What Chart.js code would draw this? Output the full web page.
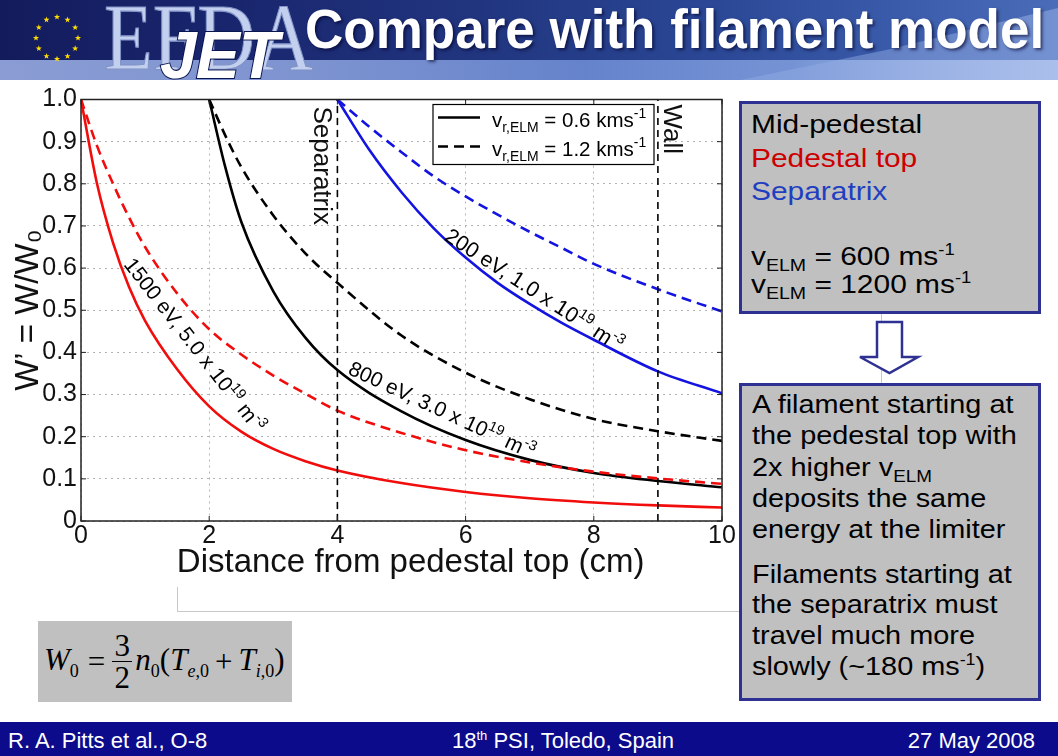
<!DOCTYPE html>
<html>
<head>
<meta charset="utf-8">
<script src="https://cdn.jsdelivr.net/npm/chart.js@4.4.1/dist/chart.umd.min.js"></script>
<style>
  html, body { margin:0; padding:0; background:#fff; }
  #slide { position:relative; width:1058px; height:756px; overflow:hidden; background:#fff;
           font-family:"Liberation Sans", Arial, Helvetica, sans-serif; }
  .abs { position:absolute; white-space:nowrap; }
  .box { position:absolute; background:#c0c0c0; border:3px solid #2e3192; box-sizing:border-box; }
  .l1 { position:absolute; left:751px; font-size:26px; line-height:26px; white-space:nowrap; color:#000; transform:scaleX(1.15); transform-origin:0 0; }
  .l2 { position:absolute; left:752px; font-size:26px; line-height:26px; white-space:nowrap; color:#000; transform:scaleX(1.11); transform-origin:0 0; }
  .sb { font-size:17px; line-height:0; vertical-align:-6px; }
  .sp { font-size:16px; line-height:0; vertical-align:10px; }
  .ft { position:absolute; top:730px; font-size:22px; line-height:22px; color:#fff; white-space:nowrap; }
  .fm { font-family:"Liberation Serif","Times New Roman",serif; }
</style>
</head>
<body>
<div id="slide">
  <!-- header -->
  <div class="abs" style="left:0;top:0;width:1058px;height:80px;background:linear-gradient(90deg,#131b5c 0%,#19266e 22%,#21357f 45%,#2b4896 68%,#3d5fae 88%,#4b6cb7 100%);"></div>
  <div class="abs" style="left:0;top:60px;width:1058px;height:20px;background:linear-gradient(90deg,#8a9cd3 0%,#7d93d0 30%,#6583cb 55%,#7593d4 75%,#c3d2f0 100%);"></div>
  <div class="abs" style="left:0;top:0;width:1058px;height:80px;background:linear-gradient(90deg,rgba(150,175,230,0) 0%,rgba(150,175,230,0.55) 100%);clip-path:polygon(70% 100%, 84% 62%, 100% 10%, 100% 100%);"></div>
  <svg class="abs" id="stars" style="left:27px;top:8px;" width="60" height="60"></svg>
  <div class="abs fm" style="left:104px;top:3px;font-size:80px;line-height:80px;color:#c3cfee;-webkit-text-stroke:1px #8193c6;transform:scaleY(1.2);transform-origin:0 67px;">EFDA</div>
  <div class="abs" style="left:160px;top:22px;font-size:66px;line-height:66px;font-weight:bold;font-style:italic;color:#fff;-webkit-text-stroke:2px #0a1650;paint-order:stroke fill;letter-spacing:-1px;">JET</div>
  <div class="abs" style="left:305px;top:3px;font-size:53px;line-height:53px;font-weight:bold;color:#fff;text-shadow:2px 2px 3px rgba(0,0,40,0.6);transform:scaleY(1.06);transform-origin:0 45px;">Compare with filament model</div>

  <!-- chart -->
  <canvas id="c" width="740" height="500" style="position:absolute;left:0;top:88px;"></canvas>

  <!-- leftover image border lines -->
  <div class="abs" style="left:177px;top:587px;width:1px;height:24px;background:#c8c8c8;"></div>
  <div class="abs" style="left:177px;top:611px;width:563px;height:1px;background:#c8c8c8;"></div>

  <!-- formula -->
  <div class="abs" style="left:38px;top:621px;width:254px;height:81px;background:#c0c0c0;"></div>
  <div class="abs fm" style="left:44px;top:621px;height:81px;display:flex;align-items:center;font-size:31px;color:#000;">
    <span><i>W</i><span style="font-size:18px;vertical-align:-7px;">0</span></span>
    <span style="margin:0 4px 0 9px;">=</span>
    <span style="display:inline-flex;flex-direction:column;align-items:center;margin:0 3px;">
      <span style="line-height:31px;">3</span>
      <span style="border-top:1.5px solid #000;width:20px;"></span>
      <span style="line-height:31px;">2</span>
    </span>
    <span><i>n</i><span style="font-size:18px;vertical-align:-7px;">0</span></span>
    <span>(<i>T</i><span style="font-size:18px;vertical-align:-7px;"><i>e</i>,0</span></span>
    <span style="margin:0 6px;">+</span>
    <span><i>T</i><span style="font-size:18px;vertical-align:-7px;"><i>i</i>,0</span>)</span>
  </div>

  <!-- right boxes -->
  <div class="abs" style="left:881px;top:313px;width:1px;height:72px;background:#c8c8c8;"></div>
  <div class="box" style="left:739px;top:101px;width:302px;height:213px;"></div>
  <div class="l1" style="top:111px;color:#000;">Mid-pedestal</div>
  <div class="l1" style="top:145px;color:#cc0000;">Pedestal top</div>
  <div class="l1" style="top:178px;color:#1f3fc0;">Separatrix</div>
  <div class="l1" style="top:243px;">v<span class="sb">ELM</span> = 600 ms<span class="sp">-1</span></div>
  <div class="l1" style="top:271px;">v<span class="sb">ELM</span> = 1200 ms<span class="sp">-1</span></div>

  <svg class="abs" style="left:850px;top:314px;" width="80" height="66">
    <polygon points="27,8 52,8 52,43 68,43 39.5,59 10,43 27,43" fill="#ffffff" stroke="#2e3192" stroke-width="2.5" stroke-linejoin="miter"/>
  </svg>

  <div class="box" style="left:739px;top:383px;width:302px;height:318px;"></div>
  <div class="l2" style="top:391px;">A filament starting at</div>
  <div class="l2" style="top:422px;">the pedestal top with</div>
  <div class="l2" style="top:454px;">2x higher v<span class="sb">ELM</span></div>
  <div class="l2" style="top:485px;">deposits the same</div>
  <div class="l2" style="top:516px;">energy at the limiter</div>
  <div class="l2" style="top:561px;">Filaments starting at</div>
  <div class="l2" style="top:591px;">the separatrix must</div>
  <div class="l2" style="top:622px;">travel much more</div>
  <div class="l2" style="top:653px;">slowly (~180 ms<span class="sp">-1</span>)</div>

  <!-- footer -->
  <div class="abs" style="left:0;top:722px;width:1058px;height:34px;background:#0b0b8c;"></div>
  <div class="ft" style="left:8px;">R. A. Pitts et al., O-8</div>
  <div class="ft" style="left:452px;">18<span style="font-size:13px;vertical-align:8px;line-height:0;">th</span> PSI, Toledo, Spain</div>
  <div class="ft" style="right:23px;">27 May 2008</div>
</div>

<script>
// ---------------- data ----------------
const xTicks = [0, 2, 4, 6, 8, 10];
const yTicks = [0, 0.1, 0.2, 0.3, 0.4, 0.5, 0.6, 0.7, 0.8, 0.9, 1.0];

// Pedestal top (red), 1500 eV, 5.0e19 m^-3
const redX      = [0, 0.25, 0.5, 0.75, 1, 1.5, 2, 2.5, 3, 3.5, 4, 5, 6, 7, 8, 9, 10];
const redSolid  = [1.0, 0.80, 0.66, 0.555, 0.475, 0.36, 0.272, 0.212, 0.171, 0.142, 0.12, 0.09, 0.069, 0.054, 0.044, 0.037, 0.032];
const redDashed = [1.0, 0.89, 0.80, 0.72, 0.65, 0.54, 0.455, 0.395, 0.345, 0.302, 0.262, 0.209, 0.168, 0.139, 0.117, 0.101, 0.088];

// Mid-pedestal (black), 800 eV, 3.0e19 m^-3
const blackX      = [2, 2.25, 2.5, 3, 3.5, 4, 5, 6, 7, 8, 9, 10];
const blackSolid  = [1.0, 0.84, 0.71, 0.545, 0.435, 0.358, 0.26, 0.192, 0.145, 0.114, 0.095, 0.08];
const blackDashed = [1.0, 0.915, 0.84, 0.725, 0.635, 0.565, 0.44, 0.352, 0.289, 0.242, 0.213, 0.19];

// Separatrix (blue), 200 eV, 1.0e19 m^-3
const blueX      = [4, 4.5, 5, 5.5, 6, 6.5, 7, 7.5, 8, 9, 10];
const blueSolid  = [1.0, 0.88, 0.78, 0.695, 0.625, 0.565, 0.515, 0.47, 0.43, 0.355, 0.303];
const blueDashed = [1.0, 0.935, 0.875, 0.818, 0.77, 0.727, 0.686, 0.648, 0.61, 0.55, 0.497];

// vertical reference lines
const markerX = [4, 9];
const markerNames = ['Separatrix', 'Wall'];

// legend speeds (kms^-1) and curve annotations
const legendSpeeds = ['0.6', '1.2'];
const curveTexts = ['1500 eV, 5.0 x 10', '800 eV, 3.0 x 10', '200 eV, 1.0 x 10'];

// ---------------- styling / placement ----------------
const RED = '#f20d0d', BLACK = '#000000', BLUE = '#1414e0';
const DASH = [10, 6];
const FONT = '"Liberation Sans", Arial, Helvetica, sans-serif';
const labelPlacement = [
  { x: 0.655, y: 0.608, angle: 52, size: 21 },
  { x: 4.15,  y: 0.35,  angle: 25, size: 21 },
  { x: 5.65,  y: 0.668, angle: 33, size: 21.5 }
];

// stars of the EU flag (decoration)
(function () {
  const svg = document.getElementById('stars');
  let s = '';
  for (let k = 0; k < 12; k++) {
    const a = k * Math.PI / 6;
    const cx = 30 + 21 * Math.cos(a), cy = 30 + 21 * Math.sin(a);
    let p = [];
    for (let j = 0; j < 10; j++) {
      const r = j % 2 ? 1.3 : 3.2;
      const b = -Math.PI / 2 + j * Math.PI / 5;
      p.push((cx + r * Math.cos(b)).toFixed(2) + ',' + (cy + r * Math.sin(b)).toFixed(2));
    }
    s += '<polygon points="' + p.join(' ') + '" fill="#ffdd00"/>';
  }
  svg.innerHTML = s;
})();

function pts(xs, ys) { return xs.map((x, i) => ({ x: x, y: ys[i] })); }

function curve(xs, ys, color, dashed) {
  return {
    data: pts(xs, ys), borderColor: color, backgroundColor: color,
    borderWidth: 2.6, borderDash: dashed ? DASH : [], pointRadius: 0,
    cubicInterpolationMode: 'monotone', fill: false
  };
}

const datasets = [
  ...markerX.map(v => ({
    data: [{ x: v, y: yTicks[0] }, { x: v, y: yTicks[yTicks.length - 1] }],
    borderColor: '#000', borderWidth: 1.6, borderDash: [7, 5], pointRadius: 0, tension: 0, fill: false
  })),
  curve(redX, redSolid, RED, false),
  curve(redX, redDashed, RED, true),
  curve(blackX, blackSolid, BLACK, false),
  curve(blackX, blackDashed, BLACK, true),
  curve(blueX, blueSolid, BLUE, false),
  curve(blueX, blueDashed, BLUE, true)
];

function drawParts(ctx, parts, size) {
  let xo = 0;
  parts.forEach(p => {
    const fs = (p.sup || p.sub) ? size * 0.68 : size;
    ctx.font = fs + 'px ' + FONT;
    const dy = p.sup ? -size * 0.42 : (p.sub ? size * 0.26 : 0);
    ctx.fillText(p.t, xo, dy);
    xo += ctx.measureText(p.t).width;
  });
}

const decor = {
  id: 'decor',
  afterDatasetsDraw(chart) {
    const { ctx, chartArea: a, scales: { x, y } } = chart;
    ctx.save();
    // frame
    ctx.strokeStyle = '#222'; ctx.lineWidth = 1.5; ctx.setLineDash([]);
    ctx.strokeRect(a.left, a.top, a.right - a.left, a.bottom - a.top);
    // inward tick marks
    ctx.lineWidth = 1;
    ctx.beginPath();
    xTicks.forEach(v => {
      const px = x.getPixelForValue(v);
      ctx.moveTo(px, a.bottom); ctx.lineTo(px, a.bottom - 5);
      ctx.moveTo(px, a.top); ctx.lineTo(px, a.top + 5);
    });
    yTicks.forEach(v => {
      const py = y.getPixelForValue(v);
      ctx.moveTo(a.left, py); ctx.lineTo(a.left + 5, py);
      ctx.moveTo(a.right, py); ctx.lineTo(a.right - 5, py);
    });
    ctx.stroke();

    // marker labels (rotated, reading downward)
    ctx.fillStyle = '#111';
    ctx.font = '26px ' + FONT;
    ctx.textBaseline = 'alphabetic';
    markerX.forEach((v, i) => {
      const px = x.getPixelForValue(v);
      const bx = i === 0 ? px - 23 : px + 6;
      ctx.save();
      ctx.translate(bx, a.top + (i === 0 ? 7 : 5));
      ctx.rotate(Math.PI / 2);
      ctx.textAlign = 'left';
      ctx.fillText(markerNames[i], 0, 0);
      ctx.restore();
    });

    // curve annotations
    curveTexts.forEach((t, i) => {
      const pl = labelPlacement[i];
      ctx.save();
      ctx.translate(x.getPixelForValue(pl.x), y.getPixelForValue(pl.y));
      ctx.rotate(pl.angle * Math.PI / 180);
      ctx.fillStyle = '#000';
      ctx.textAlign = 'left';
      drawParts(ctx, [{ t: t }, { t: '19', sup: true }, { t: ' m' }, { t: '-3', sup: true }], pl.size);
      ctx.restore();
    });

    // line-style legend
    const lx = a.left + 352, ly = a.top + 5, lw = 221, lh = 60;
    ctx.fillStyle = '#fff';
    ctx.fillRect(lx, ly, lw, lh);
    ctx.strokeStyle = '#000'; ctx.lineWidth = 1.2;
    ctx.strokeRect(lx, ly, lw, lh);
    legendSpeeds.forEach((sp, i) => {
      const ry = ly + 13 + i * 29;
      ctx.save();
      ctx.strokeStyle = '#000'; ctx.lineWidth = 2.6;
      ctx.setLineDash(i === 0 ? [] : DASH);
      ctx.beginPath(); ctx.moveTo(lx + 5, ry); ctx.lineTo(lx + 47, ry); ctx.stroke();
      ctx.restore();
      ctx.save();
      ctx.translate(lx + 59, ry + 9.5);
      ctx.fillStyle = '#000';
      drawParts(ctx, [{ t: 'v' }, { t: 'r,ELM', sub: true }, { t: ' = ' + sp + ' kms' }, { t: '-1', sup: true }], 20.5);
      ctx.restore();
    });
    ctx.restore();
  }
};

const canvas = document.getElementById('c');

function build(h) {
  canvas.setAttribute('height', h);
  canvas.style.height = h + 'px';
  canvas.style.width = '740px';
  return new Chart(canvas, {
    type: 'line',
    data: { datasets: datasets },
    options: {
      responsive: false,
      maintainAspectRatio: false,
      animation: false,
      parsing: true,
      layout: { padding: { top: 0, right: 18, left: 0, bottom: 0 } },
      plugins: { legend: { display: false }, tooltip: { enabled: false }, title: { display: false } },
      elements: { point: { radius: 0 } },
      scales: {
        x: {
          type: 'linear', min: 0, max: 10,
          afterBuildTicks: s => { s.ticks = xTicks.map(v => ({ value: v })); },
          afterFit: s => { s.height = 64; },
          ticks: { autoSkip: false, maxRotation: 0, padding: 3, color: '#111',
                   font: { family: FONT, size: 25, lineHeight: 1 }, callback: v => String(v) },
          grid: { color: '#b4b4b4', lineWidth: 1, drawTicks: false },
          border: { display: false, dash: [2, 4] },
          title: { display: true, text: '\u00a0\u00a0Distance from pedestal top (cm)', color: '#111',
                   font: { family: FONT, size: 33, lineHeight: 1.2 }, padding: { top: 0, bottom: 2 } }
        },
        y: {
          type: 'linear', min: 0, max: 1,
          afterBuildTicks: s => { s.ticks = yTicks.map(v => ({ value: v })); },
          afterFit: s => { s.width = 81; },
          ticks: { autoSkip: false, padding: 4, color: '#111',
                   font: { family: FONT, size: 25, lineHeight: 1 },
                   callback: v => (v === 0 ? '0' : Number(v).toFixed(1)) },
          grid: { color: '#b4b4b4', lineWidth: 1, drawTicks: false },
          border: { display: false, dash: [2, 4] },
          title: { display: true, text: 'W\u2019 = W/W\u2080', color: '#111',
                   font: { family: FONT, size: 33, lineHeight: 1.2 }, padding: { top: 9, bottom: 0 } }
        }
      }
    },
    plugins: [decor]
  });
}

let chart = build(500);
const t0 = chart.chartArea.top;
chart.destroy();
const H = Math.round(485 + t0);
chart = build(H);
const t1 = chart.chartArea.top;
canvas.style.top = (99 - t1) + 'px';
</script>
</body>
</html>
